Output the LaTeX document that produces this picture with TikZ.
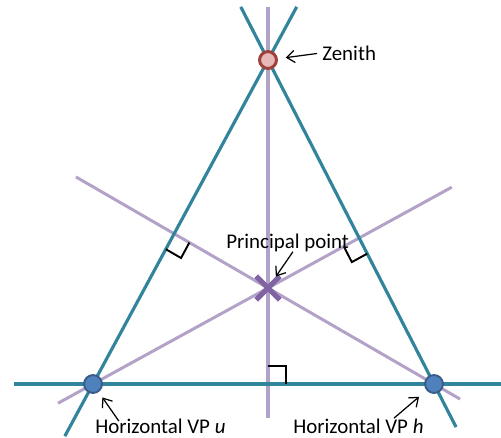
\documentclass[tikz,border=0pt]{standalone}
\usepackage{fontspec}
\setmainfont{Carlito}
\usepackage{tikz}
\usetikzlibrary{arrows.meta,calc,shapes.misc}

\definecolor{tealline}{HTML}{31849B}
\definecolor{lilac}{HTML}{B3A2C7}
\definecolor{zenfill}{HTML}{E6B9B8}
\definecolor{zenedge}{HTML}{A0403D}
\definecolor{vpfill}{HTML}{4F81BD}
\definecolor{vpedge}{HTML}{385D8A}
\definecolor{ppmark}{HTML}{8064A2}

\begin{document}
\begin{tikzpicture}[x=0.02cm, y=-0.02cm,
    edge/.style={tealline, line width=1.8pt},
    sight/.style={lilac, line width=1.7pt},
    rangle/.style={black, line width=1.1pt},
    vpdot/.style={circle, draw=vpedge, fill=vpfill, line width=1.1pt, minimum size=10.2pt, inner sep=0pt},
    zendot/.style={circle, draw=zenedge, fill=zenfill, line width=1.7pt, minimum size=9.6pt, inner sep=0pt},
    pointer/.style={-{Straight Barb[length=4.5pt,width=7pt]}, line width=0.7pt},
    lbl/.style={inner sep=0pt, font=\fontsize{11.9}{14}\selectfont}]
    \useasboundingbox (0,0) rectangle (501,437);

    % the three vanishing points and the principal point
    \coordinate (Z) at (268,60);
    \coordinate (U) at (93,384);
    \coordinate (H) at (434,384);
    \coordinate (P) at (268,288);

    % lines through the principal point
    \draw[sight] ($(U)!-0.2!(P)$) -- ($(U)!2.05!(P)$);
    \draw[sight] ($(H)!-0.157!(P)$) -- ($(H)!2.157!(P)$);
    \draw[sight, line width=1.9pt] ($(Z)+(0,-53)$) -- ($(P)+(0,130)$);

    % sides of the triangle
    \draw[edge] ($(U)!-0.161!(Z)$) -- ($(U)!1.164!(Z)$);
    \draw[edge] ($(H)!-0.133!(Z)$) -- ($(H)!1.164!(Z)$);
    \draw[edge] (14,384) -- (501,384);

    % right angles
    \def\rs{10pt}
    \coordinate (F1) at (intersection of H--P and U--Z);
    \coordinate (F2) at (intersection of U--P and H--Z);
    \coordinate (F3) at ($(U)!(Z)!(H)$);
    \foreach \f/\a/\b in {F1/U/P, F2/H/P, F3/Z/H} {
      \coordinate (a) at ($(\f)!\rs!(\a)$);
      \coordinate (b) at ($(\f)!\rs!(\b)$);
      \draw[rangle] (a) -- ($(a)+(b)-(\f)$) -- (b);
    }

    % markers
    \node[zendot] (zdot) at (Z) {};
    \node[vpdot] (udot) at (U) {};
    \node[vpdot] (hdot) at (H) {};
    \node[cross out, draw=ppmark, line width=3pt, minimum size=10.5pt, inner sep=0pt] (pp) at (P) {};

    % labels
    \node[lbl, anchor=base west] (zlabel) at (322,60) {Zenith};
    \node[lbl, anchor=base west] (pplabel) at (226,248) {Principal point};
    \node[lbl, anchor=base west] (ulabel) at (95,433) {Horizontal VP \textit{u}};
    \node[lbl, anchor=base west] (hlabel) at (293,433) {Horizontal VP \textit{h}};

    \draw[pointer, shorten <=2.8pt, shorten >=10.2pt] (zlabel.west) -- (zdot.center);
    \draw[pointer, shorten >=7.9pt] ([xshift=3pt]pplabel.south) -- (pp.center);
    \draw[pointer, shorten >=9.3pt] ([xshift=13.6pt, yshift=-1.7pt]ulabel.north west) -- (udot.center);
    \draw[pointer, shorten >=11.2pt] ([xshift=-17pt]hlabel.north east) -- (hdot.center);
\end{tikzpicture}
\end{document}
